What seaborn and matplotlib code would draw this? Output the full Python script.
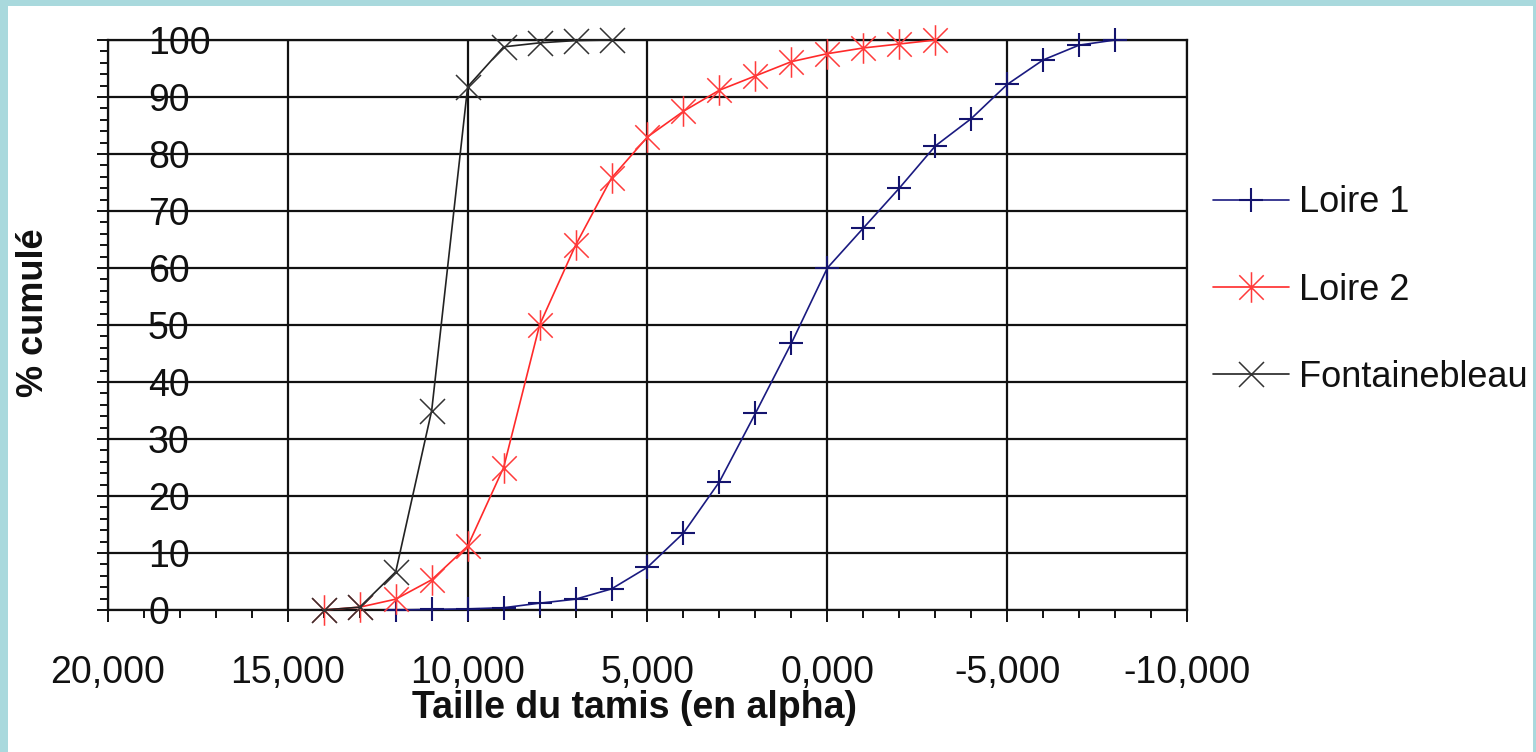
import matplotlib
matplotlib.use("Agg")
import matplotlib.pyplot as plt
import seaborn as sns
import numpy as np
import pandas as pd
from matplotlib.path import Path
from matplotlib.patches import Rectangle
from matplotlib.ticker import MultipleLocator, FixedLocator, FixedFormatter

# ---- data ----
loire1_x = [12, 11, 10, 9, 8, 7, 6, 5, 4, 3, 2, 1, 0, -1, -2, -3, -4, -5, -6, -7, -8]
loire1_y = [0.0, 0.1, 0.2, 0.4, 1.2, 1.9, 3.7, 7.5, 13.5, 22.5, 34.5, 46.8, 60.0,
            67.0, 74.0, 81.4, 86.2, 92.2, 96.5, 99.1, 100.0]

loire2_x = [14, 13, 12, 11, 10, 9, 8, 7, 6, 5, 4, 3, 2, 1, 0, -1, -2, -3]
loire2_y = [0.0, 0.5, 1.9, 5.3, 11.2, 25.0, 50.0, 64.0, 75.8, 83.0, 87.5, 91.2,
            93.7, 96.2, 97.6, 98.6, 99.3, 100.0]

font_x = [14, 13, 12, 11, 10, 9, 8, 7, 6]
font_y = [0.0, 0.5, 6.7, 35.0, 91.8, 98.8, 99.5, 99.9, 100.0]

series_names = ["Loire 1", "Loire 2", "Fontainebleau"]
x_ticks = [20, 15, 10, 5, 0, -5, -10]
x_tick_labels = ["20,000", "15,000", "10,000", "5,000", "0,000", "-5,000", "-10,000"]
y_ticks = [0, 10, 20, 30, 40, 50, 60, 70, 80, 90, 100]
y_tick_labels = [str(v) for v in y_ticks]
x_label = "Taille du tamis (en alpha)"
y_label = "% cumulé"

# ---- style ----
sns.set_style("white")
plt.rcParams["font.family"] = ["Liberation Sans", "DejaVu Sans"]

W, H = 1536, 752
fig = plt.figure(figsize=(W / 100, H / 100), dpi=100, facecolor="#a9d9dd")
bg = Rectangle((8 / W, 0), (1533 - 8) / W, (H - 6) / H,
               transform=fig.transFigure, facecolor="white",
               edgecolor="none", zorder=-10)
fig.patches.append(bg)

ax = fig.add_axes([108 / W, (H - 610) / H, (1187 - 108) / W, (610 - 40) / H])
ax.set_zorder(1)
ax.set_facecolor("white")

asterisk = Path([(-1, -1), (1, 1), (-1, 1), (1, -1), (0, -1.25), (0, 1.25)],
                [Path.MOVETO, Path.LINETO, Path.MOVETO, Path.LINETO,
                 Path.MOVETO, Path.LINETO])

df1 = pd.DataFrame({"x": loire1_x, "y": loire1_y})
df2 = pd.DataFrame({"x": loire2_x, "y": loire2_y})
df3 = pd.DataFrame({"x": font_x, "y": font_y})

sns.lineplot(data=df1, x="x", y="y", ax=ax, color="#1a1a80", lw=1.2,
             marker="+", markersize=17, markeredgewidth=1.5,
             markeredgecolor="#14146e",
             label=series_names[0], zorder=3, clip_on=False)
sns.lineplot(data=df2, x="x", y="y", ax=ax, color="#ff2a2a", lw=1.2,
             marker=asterisk, markersize=22, markeredgewidth=1.1,
             markerfacecolor="none", markeredgecolor="#ff3b3b",
             label=series_names[1], zorder=4, clip_on=False)
sns.lineplot(data=df3, x="x", y="y", ax=ax, color="#222222", lw=1.2,
             marker="x", markersize=18, markeredgewidth=1.1,
             markeredgecolor="#333333",
             label=series_names[2], zorder=5, clip_on=False)

ax.set_xlim(20, -10)
ax.set_ylim(0, 100)

ax.xaxis.set_major_locator(FixedLocator(x_ticks))
ax.xaxis.set_major_formatter(FixedFormatter(x_tick_labels))
ax.xaxis.set_minor_locator(MultipleLocator(1))
ax.yaxis.set_major_locator(FixedLocator(y_ticks))
ax.yaxis.set_major_formatter(FixedFormatter(y_tick_labels))
ax.yaxis.set_minor_locator(MultipleLocator(2))

ax.grid(True, which="major", color="#111111", lw=1.6)
for s in ax.spines.values():
    s.set_visible(True)
    s.set_color("#111111")
    s.set_linewidth(1.6)

ax.tick_params(axis="x", which="major", direction="out", length=8.6, width=1.4,
               color="#111111", pad=23.5, labelsize=27, bottom=True,
               labelcolor="#111111")
ax.tick_params(axis="x", which="minor", direction="out", length=5.8, width=1.4,
               color="#111111", bottom=True)
ax.tick_params(axis="y", which="major", direction="out", length=7.9, width=1.4,
               color="#111111", pad=-36.7, labelsize=27, left=True,
               labelcolor="#111111")
ax.tick_params(axis="y", which="minor", direction="out", length=5.8, width=1.4,
               color="#111111", left=True)
for lab in ax.get_yticklabels():
    lab.set_horizontalalignment("left")
    lab.set_zorder(6)

ax.set_xlabel(x_label, fontsize=27, fontweight="bold", color="#111111")
ax.set_ylabel(y_label, fontsize=26, fontweight="bold", color="#111111")
ax.xaxis.set_label_coords((634 - 108) / 1079, (610 - 690) / 570)
ax.yaxis.set_label_coords((51 - 108) / 1079, (610 - 313) / 570)

leg = ax.legend(loc="center left", bbox_to_anchor=(1213 / W, (H - 290) / H),
                bbox_transform=fig.transFigure, frameon=False, fontsize=26,
                handlelength=2.1, handletextpad=0.27, labelspacing=1.45,
                borderpad=0, borderaxespad=0)
for t in leg.get_texts():
    t.set_color("#111111")

fig.savefig("out.png", dpi=100, facecolor=fig.get_facecolor())
